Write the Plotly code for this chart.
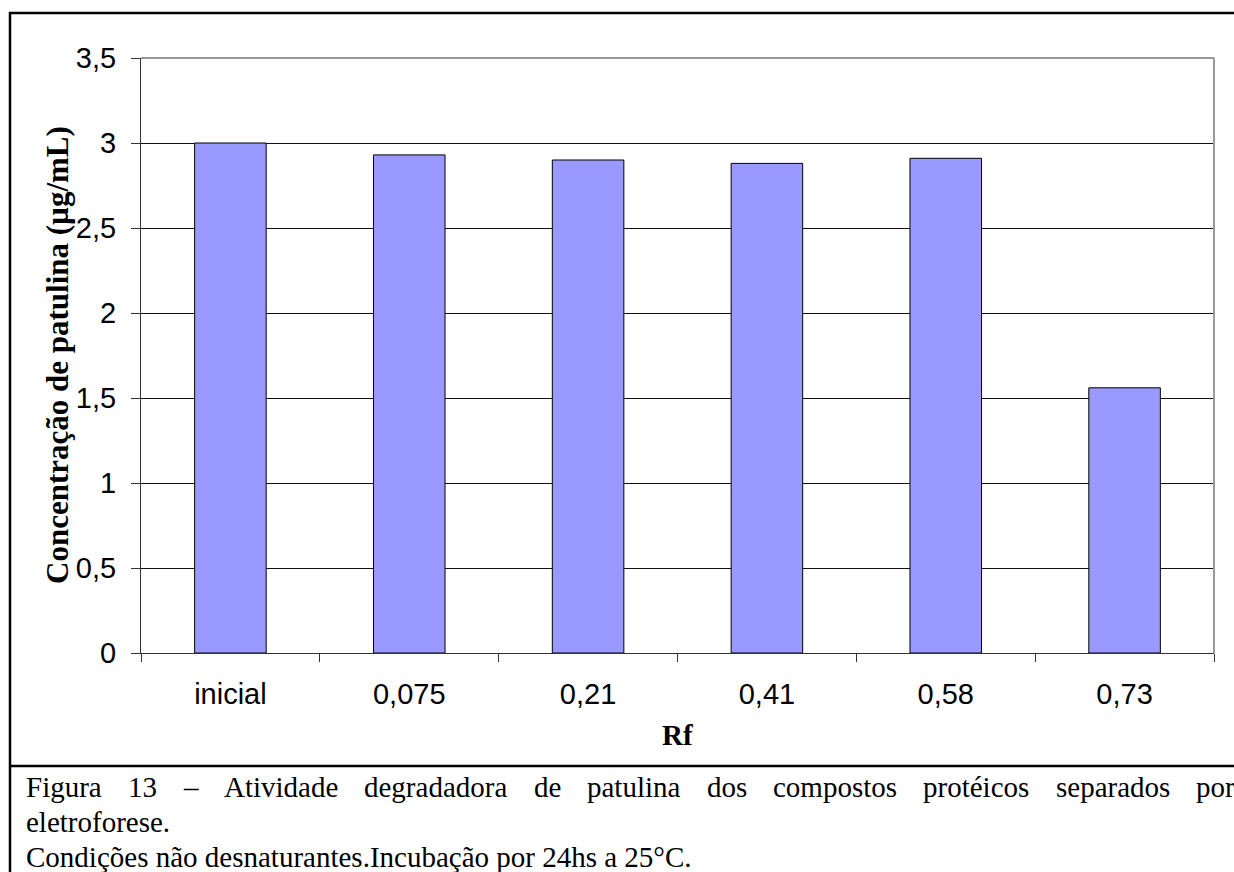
import plotly.graph_objects as go

# ---- data ----
categories = ["inicial", "0,075", "0,21", "0,41", "0,58", "0,73"]
values = [3.0, 2.93, 2.90, 2.88, 2.91, 1.56]
y_ticks = [0, 0.5, 1, 1.5, 2, 2.5, 3, 3.5]
y_title = "Concentração de patulina (µg/mL)"
x_title = "Rf"
caption_line1 = "Figura 13 – Atividade degradadora de patulina dos compostos protéicos separados por"
caption_line2 = "eletroforese."
caption_line3 = "Condições não desnaturantes.Incubação por 24hs a 25°C."

W, H = 1234, 872
L, R, T, B = 141, 1214, 58, 653  # plot area in pixels

def px(x):
    return (x - L) / (R - L)

def py(y):
    return (B - y) / (B - T)

SANS = "Liberation Sans, Arial, sans-serif"
SERIF = "Liberation Serif, Times New Roman, serif"

fig = go.Figure(go.Bar(
    x=categories, y=values,
    marker=dict(color="#9999FF", line=dict(color="#000000", width=1)),
    hoverinfo="skip",
))

# approximate Times advance widths (em) for justification of line 1
tw = {
    'F': .556, 'i': .278, 'g': .5, 'u': .5, 'r': .333, 'a': .444, '1': .5, '3': .5,
    '–': .5, 'A': .722, 't': .278, 'v': .5, 'd': .5, 'e': .444, 'o': .5, 'l': .278,
    'n': .5, 'p': .5, 's': .389, 'c': .444, 'm': .778, 'é': .444,
}
cap_size = 29
words = caption_line1.split(" ")
widths = [sum(tw.get(ch, .5) for ch in w) * cap_size for w in words]
x0, x1 = 24, 1233
gap = (x1 - x0 - sum(widths)) / (len(words) - 1)
annotations = []
cx = x0
for w, wd in zip(words, widths):
    annotations.append(dict(text=w, x=px(cx), y=py(787), xref="paper", yref="paper",
                            xanchor="left", yanchor="middle", showarrow=False,
                            font=dict(family=SERIF, size=cap_size, color="black")))
    cx += wd + gap
annotations.append(dict(text=caption_line2, x=px(24), y=py(822), xref="paper", yref="paper",
                        xanchor="left", yanchor="middle", showarrow=False,
                        font=dict(family=SERIF, size=cap_size, color="black")))
annotations.append(dict(text=caption_line3, x=px(24), y=py(857), xref="paper", yref="paper",
                        xanchor="left", yanchor="middle", showarrow=False,
                        font=dict(family=SERIF, size=cap_size, color="black")))
annotations.append(dict(text="<b>" + y_title + "</b>", x=px(57), y=py(355), xref="paper", yref="paper",
                        xanchor="center", yanchor="middle", textangle=-90, showarrow=False,
                        font=dict(family=SERIF, size=31, color="black")))
annotations.append(dict(text="<b>" + x_title + "</b>", x=0.5, y=py(735), xref="paper", yref="paper",
                        xanchor="center", yanchor="middle", showarrow=False,
                        font=dict(family=SERIF, size=29, color="black")))

shapes = [
    # plot area top and right border (gray)
    dict(type="line", xref="paper", yref="paper", x0=0, x1=1, y0=1, y1=1,
         line=dict(color="#999999", width=2), layer="above"),
    dict(type="line", xref="paper", yref="paper", x0=1, x1=1, y0=0, y1=1,
         line=dict(color="#999999", width=2), layer="above"),
    # outer frame
    dict(type="line", xref="paper", yref="paper", x0=px(9), x1=px(1240), y0=py(13), y1=py(13),
         line=dict(color="black", width=2.5)),
    dict(type="line", xref="paper", yref="paper", x0=px(10), x1=px(10), y0=py(12), y1=py(880),
         line=dict(color="black", width=2.5)),
    dict(type="line", xref="paper", yref="paper", x0=px(9), x1=px(1240), y0=py(766), y1=py(766),
         line=dict(color="black", width=2.5)),
]

fig.update_layout(
    width=W, height=H,
    margin=dict(l=L, r=W - R, t=T, b=H - B, pad=0),
    paper_bgcolor="white", plot_bgcolor="white",
    separators=",.",
    showlegend=False,
    bargap=0.6,
    annotations=annotations,
    shapes=shapes,
    xaxis=dict(
        type="category", showgrid=False, showline=True, linecolor="#333333", linewidth=1,
        ticks="outside", tickson="boundaries", ticklen=8, tickcolor="#333333", tickwidth=1,
        tickfont=dict(family=SANS, size=29, color="black"), ticklabelstandoff=15,
        range=[-0.5, len(categories) - 0.5], zeroline=False,
    ),
    yaxis=dict(
        range=[0, 3.5], tickvals=y_ticks, showgrid=True, gridcolor="#111111", gridwidth=1,
        showline=True, linecolor="#333333", linewidth=1,
        ticks="outside", ticklen=9, tickcolor="#333333", tickwidth=1,
        tickfont=dict(family=SANS, size=29, color="black"), ticklabelstandoff=9,
        zeroline=False,
    ),
)

fig.write_html("out.html")
